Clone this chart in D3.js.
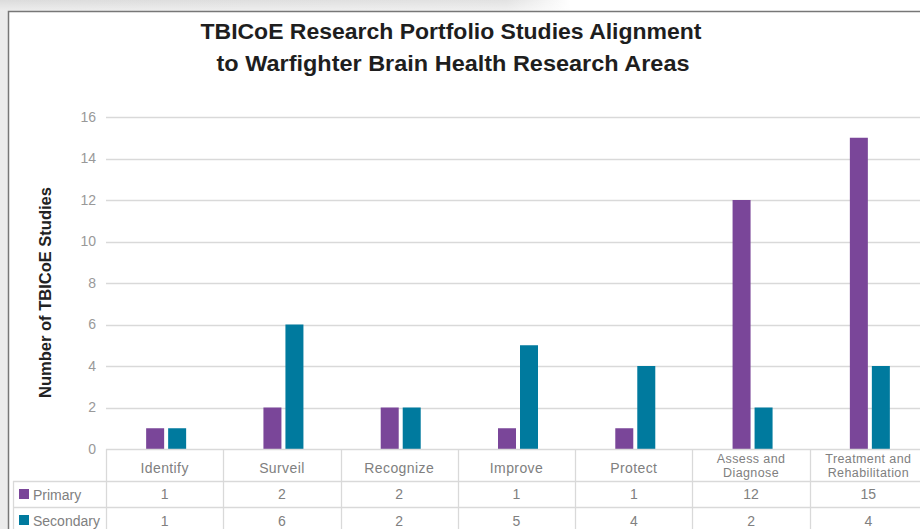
<!DOCTYPE html>
<html>
<head>
<meta charset="utf-8">
<script src="https://cdn.jsdelivr.net/npm/d3@7"></script>
<style>
  body { margin: 0; background: #fff; }
  svg { display: block; }
</style>
</head>
<body>
<svg id="chart" width="920" height="529"></svg>
<script>
// ---- DATA ----
const categories = [["Identify"], ["Surveil"], ["Recognize"], ["Improve"], ["Protect"],
  ["Assess and", "Diagnose"], ["Treatment and", "Rehabilitation"]];
const seriesNames = ["Primary", "Secondary"];
const primary = [1, 2, 2, 1, 1, 12, 15];
const secondary = [1, 6, 2, 5, 4, 2, 4];
const yTicks = [0, 2, 4, 6, 8, 10, 12, 14, 16];
const titleLines = ["TBICoE Research Portfolio Studies Alignment", "to Warfighter Brain Health Research Areas"];

const colors = { Primary: "#7a4699", Secondary: "#007a9e" };
const gridColor = "#d9d9d9";
const textGray = "#808080";

const svg = d3.select("#chart");
const width = 920, height = 529;

// ---- BACKGROUND / FRAME ----
const defs = svg.append("defs");
const grad = defs.append("linearGradient").attr("id", "shadeTop")
  .attr("x1", 0).attr("y1", 0).attr("x2", 1).attr("y2", 0);
grad.append("stop").attr("offset", "0%").attr("stop-color", "#dcdcdc");
grad.append("stop").attr("offset", "55%").attr("stop-color", "#e2e2e2");
grad.append("stop").attr("offset", "62%").attr("stop-color", "#ffffff");
const gradV = defs.append("linearGradient").attr("id", "shadeV")
  .attr("x1", 0).attr("y1", 0).attr("x2", 0).attr("y2", 1);
gradV.append("stop").attr("offset", "0%").attr("stop-color", "#fff").attr("stop-opacity", 0);
gradV.append("stop").attr("offset", "100%").attr("stop-color", "#fff").attr("stop-opacity", 0.5);

svg.append("rect").attr("x", 0).attr("y", 0).attr("width", width).attr("height", 11)
  .attr("fill", "url(#shadeTop)");
svg.append("rect").attr("x", 0).attr("y", 0).attr("width", width).attr("height", 11)
  .attr("fill", "url(#shadeV)");
svg.append("rect").attr("x", 0).attr("y", 11).attr("width", 8).attr("height", height - 11)
  .attr("fill", "#ececec");

svg.append("path")
  .attr("d", `M8.5,${height} V11.5 H${width}`)
  .attr("fill", "none").attr("stroke", "#777").attr("stroke-width", 1.5);

// ---- TITLE ----
const titleFont = "'Liberation Sans Narrow', 'Arial Narrow', 'Liberation Sans', sans-serif";
svg.append("text")
  .attr("x", 451).attr("y", 39)
  .attr("text-anchor", "middle")
  .attr("font-family", titleFont)
  .attr("font-weight", "bold").attr("font-size", 22).attr("fill", "#1e1e1e")
  .attr("textLength", 501).attr("lengthAdjust", "spacingAndGlyphs")
  .text(titleLines[0]);
svg.append("text")
  .attr("x", 453).attr("y", 71)
  .attr("text-anchor", "middle")
  .attr("font-family", titleFont)
  .attr("font-weight", "bold").attr("font-size", 22).attr("fill", "#1e1e1e")
  .attr("textLength", 473).attr("lengthAdjust", "spacingAndGlyphs")
  .text(titleLines[1]);

// ---- SCALES ----
const plotLeft = 106, plotRight = 927;
const x = d3.scaleBand().domain(d3.range(categories.length)).range([plotLeft, plotRight]);
const x1 = d3.scaleBand().domain(seriesNames).range([0, 40]).paddingInner(4 / 22);
const y = d3.scaleLinear().domain([0, 16]).range([449, 117]);

// ---- GRID + Y AXIS ----
const yAxis = d3.axisLeft(y).tickValues(yTicks).tickSize(0).tickPadding(10);
const yg = svg.append("g").attr("transform", `translate(${plotLeft},0)`).call(yAxis);
yg.select(".domain").remove();
yg.selectAll("text")
  .attr("font-family", "'Liberation Sans', Arial, sans-serif")
  .attr("font-size", 14).attr("fill", "#999");

svg.append("g").selectAll("line").data(yTicks.filter(t => t > 0)).join("line")
  .attr("x1", plotLeft).attr("x2", width)
  .attr("y1", d => Math.round(y(d)) + 0.5).attr("y2", d => Math.round(y(d)) + 0.5)
  .attr("stroke", gridColor).attr("stroke-width", 1.3);

svg.append("text")
  .attr("transform", "translate(51,292.5) rotate(-90)")
  .attr("text-anchor", "middle")
  .attr("font-family", "'Liberation Sans', Arial, sans-serif")
  .attr("font-weight", "bold").attr("font-size", 16.5).attr("fill", "#222")
  .text("Number of TBICoE Studies");

// ---- BARS ----
const groupOffset = (x.bandwidth() - 40) / 2 + 1.5;
const barData = [];
categories.forEach((c, i) => {
  barData.push({ i, s: "Primary", v: primary[i] });
  barData.push({ i, s: "Secondary", v: secondary[i] });
});
svg.append("g").selectAll("rect").data(barData).join("rect")
  .attr("x", d => x(d.i) + groupOffset + x1(d.s))
  .attr("width", x1.bandwidth())
  .attr("y", d => y(d.v))
  .attr("height", d => y(0) - y(d.v))
  .attr("fill", d => colors[d.s]);

// ---- DATA TABLE ----
const rowTop = 449, row1 = 481, row2 = 507, tableLeft = 13;
const tbl = svg.append("g").attr("stroke", gridColor).attr("stroke-width", 1.3);
tbl.append("line").attr("x1", plotLeft).attr("x2", width).attr("y1", rowTop + 0.5).attr("y2", rowTop + 0.5);
[row1, row2].forEach(ry => {
  tbl.append("line").attr("x1", tableLeft).attr("x2", width).attr("y1", ry + 0.5).attr("y2", ry + 0.5);
});
tbl.append("line").attr("x1", tableLeft + 0.5).attr("x2", tableLeft + 0.5).attr("y1", row1).attr("y2", height);
d3.range(categories.length + 1).forEach(i => {
  const xx = i < categories.length ? x(i) : plotRight;
  tbl.append("line").attr("x1", Math.round(xx) + 0.5).attr("x2", Math.round(xx) + 0.5)
    .attr("y1", rowTop).attr("y2", height);
});

const cellFont = "'Liberation Sans', Arial, sans-serif";
const catText = svg.append("g").selectAll("text").data(categories).join("text")
  .attr("text-anchor", "middle")
  .attr("font-family", cellFont).attr("fill", textGray)
  .attr("font-size", d => d.length === 1 ? 14 : 12.5)
  .attr("x", (d, i) => x(i) + x.bandwidth() / 2)
  .attr("y", d => d.length === 1 ? 473 : 463);
catText.selectAll("tspan").data(d => d).join("tspan")
  .attr("x", function () { return this.parentNode.getAttribute("x"); })
  .attr("dy", (d, j) => j === 0 ? 0 : 13.5)
  .attr("letter-spacing", 0.4)
  .text(d => d);

[[primary, row1 + 18], [secondary, row2 + 18.5]].forEach(([vals, ty]) => {
  svg.append("g").selectAll("text").data(vals).join("text")
    .attr("text-anchor", "middle")
    .attr("font-family", cellFont).attr("font-size", 14).attr("fill", textGray)
    .attr("x", (d, i) => x(i) + x.bandwidth() / 2)
    .attr("y", ty)
    .text(d => d);
});

// legend keys in the table
seriesNames.forEach((s, k) => {
  const ry = k === 0 ? row1 : row2;
  svg.append("rect").attr("x", 19).attr("y", ry + 8).attr("width", 10).attr("height", 10)
    .attr("fill", colors[s]);
  svg.append("text").attr("x", 33).attr("y", ry + 18.5)
    .attr("font-family", cellFont).attr("font-size", 14).attr("fill", textGray)
    .text(s);
});
</script>
</body>
</html>
